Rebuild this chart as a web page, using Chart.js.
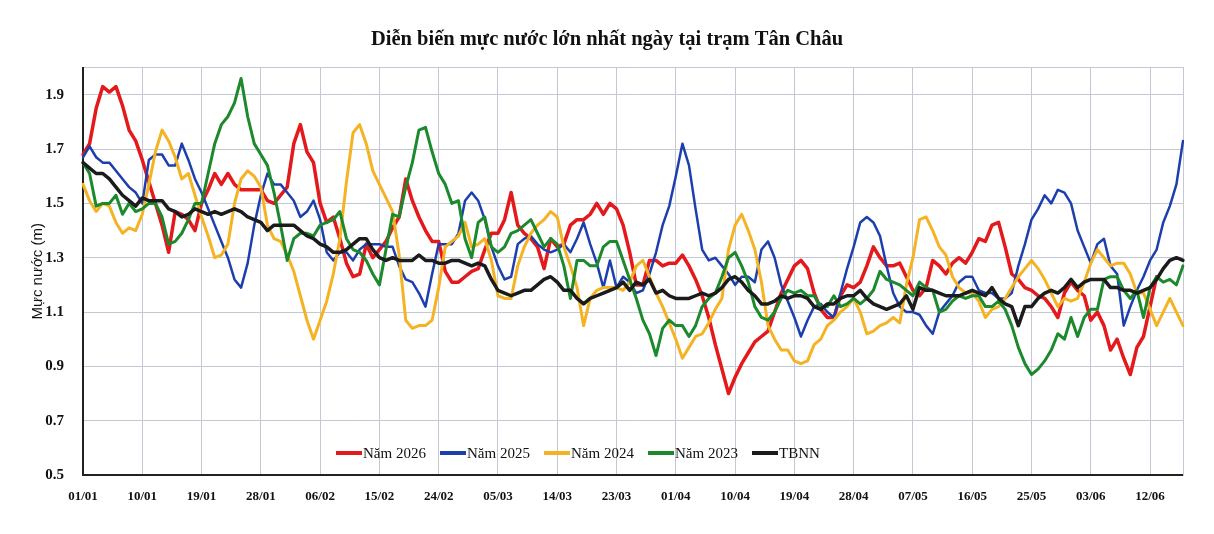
<!DOCTYPE html>
<html>
<head>
<meta charset="utf-8">
<script src="https://cdn.jsdelivr.net/npm/chart.js@4.4.1/dist/chart.umd.min.js"></script>
<style>
html, body { margin: 0; padding: 0; background: #fff; }
#wrap { width: 1214px; height: 534px; }
</style>
</head>
<body>
<div id="wrap"><canvas id="chart" width="1214" height="534"></canvas></div>
<script>
// ngày 01/01 -> 17/06
var monthDays = [31, 28, 31, 30, 31, 30];
var days = [];
for (var m = 0; m < monthDays.length; m++) {
    for (var d = 1; d <= monthDays[m]; d++) {
        if (m === 5 && d > 17) break;
        days.push((d < 10 ? '0' : '') + d + '/0' + (m + 1));
    }
}

var tickLabels = ['01/01', '10/01', '19/01', '28/01', '06/02', '15/02', '24/02', '05/03', '14/03',
    '23/03', '01/04', '10/04', '19/04', '28/04', '07/05', '16/05', '25/05', '03/06', '12/06'];
var yTicks = [0.5, 0.7, 0.9, 1.1, 1.3, 1.5, 1.7, 1.9];

var nam2026 = [
    1.68, 1.72, 1.85, 1.93, 1.91, 1.93, 1.86, 1.77, 1.73, 1.66,
    1.58, 1.50, 1.42, 1.32, 1.47, 1.46, 1.44, 1.40, 1.50, 1.55,
    1.61, 1.57, 1.61, 1.57, 1.55, 1.55, 1.55, 1.55, 1.51, 1.50,
    1.53, 1.56, 1.72, 1.79, 1.69, 1.65, 1.50, 1.43, 1.45, 1.37,
    1.28, 1.23, 1.24, 1.35, 1.30, 1.33, 1.36, 1.41, 1.45, 1.59,
    1.51, 1.45, 1.40, 1.36, 1.36, 1.25, 1.21, 1.21, 1.23, 1.25,
    1.26, 1.33, 1.39, 1.39, 1.44, 1.54, 1.42, 1.39, 1.37, 1.34,
    1.26, 1.37, 1.34, 1.35, 1.42, 1.44, 1.44, 1.46, 1.50, 1.46,
    1.50, 1.48, 1.42, 1.32, 1.20, 1.20, 1.29, 1.29, 1.27, 1.28,
    1.28, 1.31, 1.27, 1.22, 1.16, 1.08, 0.98, 0.89, 0.80, 0.86,
    0.91, 0.95, 0.99, 1.01, 1.03, 1.10, 1.17, 1.22, 1.27, 1.29,
    1.26, 1.17, 1.11, 1.08, 1.08, 1.16, 1.20, 1.19, 1.21, 1.27,
    1.34, 1.30, 1.27, 1.27, 1.28, 1.23, 1.18, 1.16, 1.19, 1.29,
    1.27, 1.24, 1.28, 1.30, 1.28, 1.32, 1.37, 1.36, 1.42, 1.43,
    1.34, 1.24, 1.22, 1.19, 1.18, 1.16, 1.15, 1.12, 1.08, 1.17,
    1.21, 1.18, 1.16, 1.07, 1.10, 1.05, 0.96, 1.00, 0.93, 0.87,
    0.97, 1.01, 1.12, 1.23, null, null, null, null
];

var nam2025 = [
    1.67, 1.71, 1.67, 1.65, 1.65, 1.62, 1.59, 1.56, 1.54, 1.50,
    1.66, 1.68, 1.68, 1.64, 1.64, 1.72, 1.66, 1.59, 1.54, 1.48,
    1.42, 1.36, 1.30, 1.22, 1.19, 1.28, 1.42, 1.53, 1.61, 1.57,
    1.57, 1.54, 1.51, 1.45, 1.47, 1.51, 1.44, 1.32, 1.29, 1.32,
    1.32, 1.29, 1.33, 1.35, 1.35, 1.35, 1.34, 1.34, 1.27, 1.22,
    1.21, 1.17, 1.12, 1.24, 1.35, 1.35, 1.35, 1.39, 1.51, 1.54,
    1.51, 1.44, 1.34, 1.27, 1.22, 1.23, 1.35, 1.37, 1.38, 1.35,
    1.33, 1.32, 1.33, 1.35, 1.32, 1.37, 1.43, 1.35, 1.28, 1.19,
    1.29, 1.19, 1.23, 1.21, 1.17, 1.18, 1.24, 1.32, 1.42, 1.49,
    1.60, 1.72, 1.64, 1.48, 1.33, 1.29, 1.30, 1.27, 1.24, 1.20,
    1.23, 1.23, 1.21, 1.33, 1.36, 1.30, 1.20, 1.14, 1.08, 1.01,
    1.07, 1.12, 1.13, 1.10, 1.08, 1.17, 1.26, 1.34, 1.43, 1.45,
    1.43, 1.38, 1.27, 1.17, 1.12, 1.10, 1.10, 1.09, 1.05, 1.02,
    1.10, 1.13, 1.16, 1.21, 1.23, 1.23, 1.18, 1.17, 1.17, 1.15,
    1.15, 1.17, 1.27, 1.35, 1.44, 1.48, 1.53, 1.50, 1.55, 1.54,
    1.50, 1.40, 1.34, 1.28, 1.35, 1.37, 1.27, 1.24, 1.05, 1.12,
    1.18, 1.23, 1.29, 1.33, 1.43, 1.49, 1.57, 1.73
];

var nam2024 = [
    1.57, 1.51, 1.47, 1.50, 1.49, 1.43, 1.39, 1.41, 1.40, 1.46,
    1.57, 1.69, 1.77, 1.73, 1.67, 1.59, 1.61, 1.53, 1.45, 1.38,
    1.30, 1.31, 1.35, 1.50, 1.59, 1.62, 1.60, 1.56, 1.42, 1.37,
    1.36, 1.31, 1.25, 1.16, 1.07, 1.00, 1.07, 1.14, 1.24, 1.37,
    1.58, 1.76, 1.79, 1.72, 1.62, 1.57, 1.52, 1.47, 1.31, 1.07,
    1.04, 1.05, 1.05, 1.07, 1.19, 1.34, 1.36, 1.38, 1.43, 1.34,
    1.35, 1.37, 1.29, 1.16, 1.15, 1.15, 1.27, 1.34, 1.39, 1.42,
    1.44, 1.47, 1.45, 1.34, 1.27, 1.19, 1.05, 1.15, 1.18, 1.19,
    1.19, 1.19, 1.18, 1.21, 1.27, 1.29, 1.23, 1.17, 1.12, 1.06,
    1.00, 0.93, 0.97, 1.01, 1.02, 1.06, 1.11, 1.15, 1.33, 1.42,
    1.46, 1.40, 1.33, 1.21, 1.05, 1.00, 0.96, 0.96, 0.92, 0.91,
    0.92, 0.98, 1.00, 1.05, 1.07, 1.10, 1.12, 1.15, 1.10, 1.02,
    1.03, 1.05, 1.06, 1.08, 1.06, 1.20, 1.30, 1.44, 1.45, 1.40,
    1.34, 1.31, 1.23, 1.19, 1.17, 1.17, 1.14, 1.08, 1.11, 1.12,
    1.15, 1.19, 1.23, 1.26, 1.29, 1.26, 1.22, 1.17, 1.12, 1.15,
    1.14, 1.15, 1.21, 1.28, 1.33, 1.30, 1.27, 1.28, 1.28, 1.24,
    1.17, 1.17, 1.11, 1.05, 1.10, 1.15, 1.10, 1.05
];

var nam2023 = [
    1.65, 1.61, 1.49, 1.50, 1.50, 1.53, 1.46, 1.50, 1.47, 1.48,
    1.50, 1.50, 1.45, 1.35, 1.36, 1.39, 1.44, 1.50, 1.50, 1.61,
    1.72, 1.79, 1.82, 1.87, 1.96, 1.82, 1.72, 1.68, 1.64, 1.54,
    1.42, 1.29, 1.37, 1.39, 1.39, 1.38, 1.42, 1.43, 1.44, 1.47,
    1.37, 1.33, 1.32, 1.29, 1.24, 1.20, 1.33, 1.46, 1.45, 1.56,
    1.65, 1.77, 1.78, 1.69, 1.61, 1.57, 1.50, 1.51, 1.37, 1.30,
    1.43, 1.45, 1.34, 1.32, 1.34, 1.39, 1.40, 1.42, 1.44, 1.39,
    1.34, 1.37, 1.35, 1.27, 1.15, 1.29, 1.29, 1.27, 1.27, 1.34,
    1.36, 1.36, 1.29, 1.22, 1.15, 1.07, 1.02, 0.94, 1.04, 1.07,
    1.05, 1.05, 1.01, 1.05, 1.12, 1.15, 1.17, 1.23, 1.30, 1.32,
    1.27, 1.21, 1.12, 1.08, 1.07, 1.10, 1.15, 1.18, 1.17, 1.18,
    1.16, 1.16, 1.12, 1.12, 1.16, 1.12, 1.13, 1.15, 1.13, 1.15,
    1.18, 1.25, 1.22, 1.21, 1.20, 1.18, 1.16, 1.21, 1.19, 1.18,
    1.10, 1.11, 1.14, 1.16, 1.15, 1.16, 1.16, 1.12, 1.12, 1.14,
    1.11, 1.05, 0.97, 0.91, 0.87, 0.89, 0.92, 0.96, 1.02, 1.00,
    1.08, 1.01, 1.08, 1.11, 1.11, 1.22, 1.23, 1.23, 1.18, 1.15,
    1.18, 1.08, 1.19, 1.23, 1.21, 1.22, 1.20, 1.27
];

var tbnn = [
    1.65, 1.63, 1.61, 1.61, 1.59, 1.56, 1.53, 1.51, 1.49, 1.52,
    1.51, 1.51, 1.51, 1.48, 1.47, 1.45, 1.46, 1.48, 1.47, 1.46,
    1.47, 1.46, 1.47, 1.48, 1.47, 1.45, 1.44, 1.43, 1.40, 1.42,
    1.42, 1.42, 1.42, 1.40, 1.38, 1.37, 1.35, 1.34, 1.32, 1.32,
    1.33, 1.35, 1.37, 1.37, 1.33, 1.30, 1.29, 1.30, 1.29, 1.29,
    1.29, 1.31, 1.29, 1.29, 1.28, 1.28, 1.29, 1.29, 1.28, 1.27,
    1.28, 1.27, 1.22, 1.18, 1.17, 1.16, 1.17, 1.18, 1.18, 1.20,
    1.22, 1.23, 1.21, 1.18, 1.18, 1.15, 1.13, 1.15, 1.16, 1.17,
    1.18, 1.19, 1.21, 1.18, 1.21, 1.20, 1.22, 1.17, 1.18, 1.16,
    1.15, 1.15, 1.15, 1.16, 1.17, 1.16, 1.17, 1.19, 1.22, 1.23,
    1.21, 1.18, 1.16, 1.13, 1.13, 1.14, 1.16, 1.15, 1.16, 1.16,
    1.15, 1.12, 1.11, 1.13, 1.13, 1.15, 1.16, 1.16, 1.18, 1.15,
    1.13, 1.12, 1.11, 1.12, 1.13, 1.16, 1.11, 1.19, 1.18, 1.18,
    1.17, 1.16, 1.16, 1.16, 1.17, 1.18, 1.17, 1.16, 1.19, 1.15,
    1.13, 1.12, 1.05, 1.12, 1.12, 1.15, 1.17, 1.18, 1.17, 1.19,
    1.22, 1.19, 1.21, 1.22, 1.22, 1.22, 1.19, 1.19, 1.18, 1.18,
    1.17, 1.18, 1.19, 1.22, 1.26, 1.29, 1.30, 1.29
];

var gridColor = '#c4c8d4';
var serif = '"Liberation Serif", "Times New Roman", serif';

// chú thích nằm trong vùng đồ thị, phía dưới
var innerLegend = {
    id: 'innerLegend',
    afterDatasetsDraw: function(chart) {
        var ctx = chart.ctx;
        var area = chart.chartArea;
        var y = area.bottom - 22;
        ctx.save();
        ctx.font = '15px ' + serif;
        ctx.textBaseline = 'middle';
        ctx.textAlign = 'left';
        chart.data.datasets.forEach(function(ds, i) {
            var x = area.left + 253 + i * 104;
            ctx.strokeStyle = ds.borderColor;
            ctx.lineWidth = 4;
            ctx.beginPath();
            ctx.moveTo(x, y);
            ctx.lineTo(x + 26, y);
            ctx.stroke();
            ctx.fillStyle = '#111';
            ctx.fillText(ds.label, x + 27, y + 1);
        });
        ctx.restore();
    }
};

var ctx = document.getElementById('chart').getContext('2d');
var myChart = new Chart(ctx, {
    type: 'line',
    data: {
        labels: days,
        datasets: [
            { label: 'Năm 2026', data: nam2026, borderColor: '#e3191c', borderWidth: 3.5, order: 4 },
            { label: 'Năm 2025', data: nam2025, borderColor: '#1d3fae', borderWidth: 2.5, order: 3 },
            { label: 'Năm 2024', data: nam2024, borderColor: '#f5b324', borderWidth: 3, order: 2 },
            { label: 'Năm 2023', data: nam2023, borderColor: '#1c8a2c', borderWidth: 3, order: 1 },
            { label: 'TBNN', data: tbnn, borderColor: '#1b1b1b', borderWidth: 3.5, order: 0 }
        ]
    },
    options: {
        responsive: false,
        animation: false,
        layout: { padding: 0 },
        elements: {
            point: { radius: 0 },
            line: { tension: 0, fill: false, borderJoinStyle: 'round', borderCapStyle: 'round' }
        },
        plugins: {
            legend: { display: false },
            tooltip: { enabled: false },
            title: {
                display: true,
                text: 'Diễn biến mực nước lớn nhất ngày tại trạm Tân Châu',
                color: '#111',
                font: { family: serif, size: 20.5, weight: 'bold' },
                padding: { top: 27, bottom: 16 }
            }
        },
        scales: {
            x: {
                offset: false,
                grid: { color: gridColor, drawTicks: false },
                border: { color: '#222', width: 2 },
                ticks: {
                    autoSkip: false,
                    maxRotation: 0,
                    padding: 14,
                    color: '#111',
                    font: { family: serif, size: 13, weight: 'bold' }
                },
                afterBuildTicks: function(axis) {
                    axis.ticks = axis.ticks.filter(function(t) {
                        return tickLabels.indexOf(days[t.value]) >= 0;
                    });
                },
                afterFit: function(axis) { axis.height = 59; }
            },
            y: {
                min: 0.5,
                max: 2.0,
                grid: { color: gridColor, drawTicks: false },
                border: { color: '#222', width: 2 },
                ticks: {
                    padding: 19,
                    color: '#111',
                    font: { family: serif, size: 15, weight: 'bold' },
                    callback: function(v) { return v > 1.95 ? '' : v.toFixed(1); }
                },
                afterBuildTicks: function(axis) {
                    axis.ticks = yTicks.concat([2.0]).map(function(v) { return { value: v }; });
                },
                title: {
                    display: true,
                    text: 'Mực nước (m)',
                    color: '#111',
                    font: { family: '"Liberation Sans", Arial, sans-serif', size: 15 },
                    padding: { top: 29, bottom: 0 }
                },
                afterFit: function(axis) { axis.width = 83; }
            },
            // trục phụ bên phải: chỉ để vẽ khung phải của vùng đồ thị
            yRight: {
                position: 'right',
                min: 0.5,
                max: 2.0,
                grid: { drawOnChartArea: false, drawTicks: false },
                border: { color: gridColor, width: 1 },
                ticks: { display: false },
                afterFit: function(axis) { axis.width = 31; }
            }
        }
    },
    plugins: [innerLegend]
});
</script>
</body>
</html>
